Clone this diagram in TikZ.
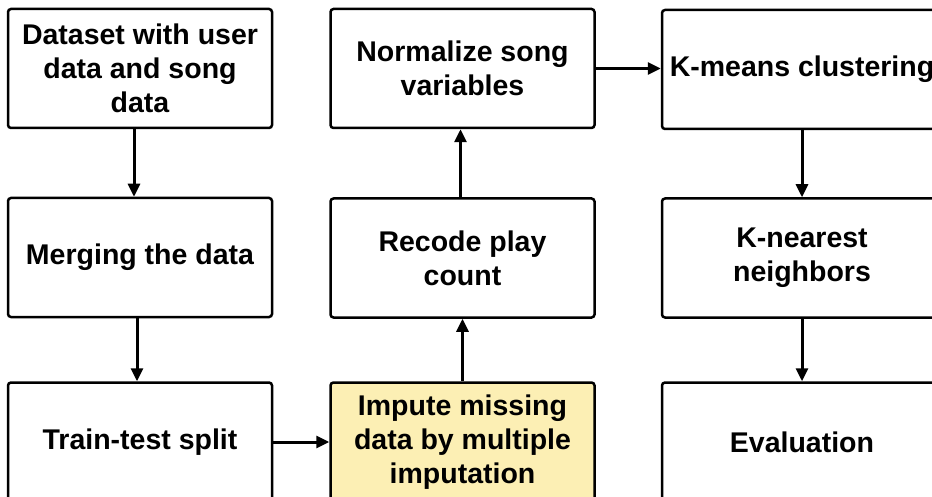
\documentclass[tikz,border=0pt]{standalone}
\usepackage{fontspec}
\setmainfont{Liberation Sans}
\usetikzlibrary{arrows.meta}
\definecolor{imputeyellow}{HTML}{FCEFB4}
\tikzset{
  stepbox/.style={draw=black, line width=2.5pt, rounded corners=3pt,
    minimum width=264pt, minimum height=119pt, inner sep=0pt,
    align=center, font=\fontsize{28.5}{34}\selectfont\bfseries},
  flow/.style={line width=3pt, -{Triangle[length=13pt,width=12pt]}}
}
\begin{document}
\begin{tikzpicture}[x=1pt,y=-1pt]
\useasboundingbox (0,0) rectangle (932,497);
\clip (0,0) rectangle (932,497);
% left column
\node[stepbox] (data) at (140,68.5) {Dataset with user\\data and song\\data};
\node[stepbox] (merge) at (140,257.5) {Merging the data};
\node[stepbox] (split) at (140,442) {Train-test split};
% middle column
\node[stepbox, fill=imputeyellow] (impute) at (462.5,442) {Impute missing\\data by multiple\\imputation};
\node[stepbox] (recode) at (462.5,258) {Recode play\\count};
\node[stepbox] (norm) at (462.5,68.5) {Normalize song\\variables};
% right column
\node[stepbox, minimum width=280pt] (kmeans) at (802,69.5) {K-means clustering};
\node[stepbox, minimum width=280pt] (knn) at (802,258) {K-nearest\\neighbors};
\node[stepbox, minimum width=280pt] (eval) at (802,442) {Evaluation};
% arrows
\draw[flow] ([xshift=-6pt]data.south) -- ([xshift=-6pt]merge.north);
\draw[flow] ([xshift=-3pt]merge.south) -- ([xshift=-3pt]split.north);
\draw[flow] (split.east) -- (impute.west);
\draw[flow] (impute.north) -- (recode.south);
\draw[flow] ([xshift=-2pt]recode.north) -- ([xshift=-2pt]norm.south);
\draw[flow] (norm.east) -- (norm.east -| kmeans.west);
\draw[flow] (kmeans.south) -- (knn.north);
\draw[flow] (knn.south) -- (eval.north);
\end{tikzpicture}
\end{document}
